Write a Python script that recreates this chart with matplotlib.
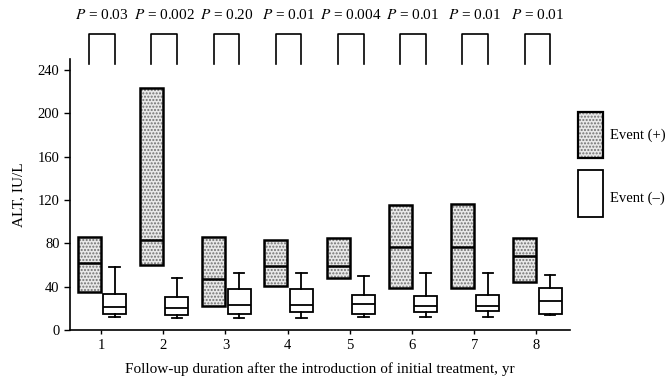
import numpy as np
import matplotlib.pyplot as plt
from matplotlib.patches import Rectangle

plt.rcParams['font.family'] = ['Liberation Serif', 'DejaVu Serif']
plt.rcParams['mathtext.fontset'] = 'stix'

years = [1, 2, 3, 4, 5, 6, 7, 8]
p_labels = ["0.03", "0.002", "0.20", "0.01", "0.004", "0.01", "0.01", "0.01"]

# Event (+): box only (q1, median, q3)
pos_q1 = [35, 60, 22, 41, 48, 39, 39, 44]
pos_med = [62, 83, 47, 59, 59, 77, 77, 68]
pos_q3 = [86, 223, 86, 83, 85, 115, 116, 85]

# Event (-): box with whiskers
neg_lo = [12, 11, 11, 11, 12, 12, 12, 14]
neg_q1 = [15, 14, 14.5, 16.5, 15, 17, 17.5, 15]
neg_med = [21, 20, 23, 23, 24, 22, 22, 27]
neg_q3 = [33, 30, 38, 37.5, 32, 31, 32, 38.5]
neg_hi = [58, 48, 53, 53, 50, 53, 53, 51]

fig = plt.figure(figsize=(6.69, 3.77), dpi=100)
ax = fig.add_axes([0.1046, 0.1247, 0.852 - 0.1046, 0.8435 - 0.1247])

x = np.array(years, dtype=float)
xp = x - 0.19
xn = x + 0.22
w = 0.37

# stipple fill for Event (+)
ax.bar(xp, np.array(pos_q3) - np.array(pos_q1), bottom=pos_q1, width=w,
       facecolor='#e8e8e8', edgecolor='#707070', linewidth=0, hatch='.....', zorder=1)

pos_stats = [dict(q1=a, med=m, q3=b, whislo=a, whishi=b, fliers=[])
             for a, m, b in zip(pos_q1, pos_med, pos_q3)]
ax.bxp(pos_stats, positions=xp, widths=w, showcaps=False, showfliers=False,
       patch_artist=True,
       boxprops=dict(facecolor='none', edgecolor='black', linewidth=1.8),
       medianprops=dict(color='black', linewidth=1.8),
       whiskerprops=dict(linewidth=0), manage_ticks=False)

neg_stats = [dict(q1=a, med=m, q3=b, whislo=lo, whishi=hi, fliers=[])
             for lo, a, m, b, hi in zip(neg_lo, neg_q1, neg_med, neg_q3, neg_hi)]
ax.bxp(neg_stats, positions=xn, widths=w, showfliers=False, patch_artist=True,
       boxprops=dict(facecolor='white', edgecolor='black', linewidth=1.3),
       medianprops=dict(color='black', linewidth=1.3),
       whiskerprops=dict(color='black', linewidth=1.3),
       capprops=dict(color='black', linewidth=1.3), capwidths=0.17,
       manage_ticks=False)

# P-value brackets
for i in range(len(years)):
    ax.plot([xp[i], xp[i], xn[i], xn[i]], [245, 273, 273, 245], color='black',
            linewidth=1.2, clip_on=False)
    ax.text((xp[i] + xn[i]) / 2, 291, r"$P$ = " + p_labels[i], ha='center',
            va='center', fontsize=11, clip_on=False)

ax.set_xlim(0.5, 8.54)
ax.set_ylim(0, 250)
ax.set_xticks(years)
ax.set_xticklabels([str(y) for y in years])
ax.set_yticks([0, 40, 80, 120, 160, 200, 240])
ax.tick_params(labelsize=10.5, width=1, length=4, direction='out')
ax.tick_params(axis='x', length=3)
ax.spines['top'].set_visible(False)
ax.spines['right'].set_visible(False)
ax.spines['left'].set_linewidth(1.2)
ax.spines['bottom'].set_linewidth(1.2)
ax.set_xlabel("Follow-up duration after the introduction of initial treatment, yr",
              fontsize=11, labelpad=7)
ax.set_ylabel("ALT, IU/L", fontsize=11, labelpad=9)

# legend
W, H = 669, 377
r1 = Rectangle((578 / W, 1 - 158 / H), 25 / W, 46 / H, transform=fig.transFigure,
               facecolor='#e8e8e8', edgecolor='#707070', linewidth=0, hatch='.....')
r1b = Rectangle((578 / W, 1 - 158 / H), 25 / W, 46 / H, transform=fig.transFigure,
                facecolor='none', edgecolor='black', linewidth=1.6)
r2 = Rectangle((578 / W, 1 - 217 / H), 25 / W, 47 / H, transform=fig.transFigure,
               facecolor='white', edgecolor='black', linewidth=1.3)
for r in (r1, r1b, r2):
    fig.patches.append(r)
fig.text(610 / W, 1 - 135 / H, "Event (+)", fontsize=10.5, va='center', ha='left')
fig.text(610 / W, 1 - 198 / H, "Event (\u2013)", fontsize=10.5, va='center', ha='left')

fig.savefig("out.png", dpi=100)
